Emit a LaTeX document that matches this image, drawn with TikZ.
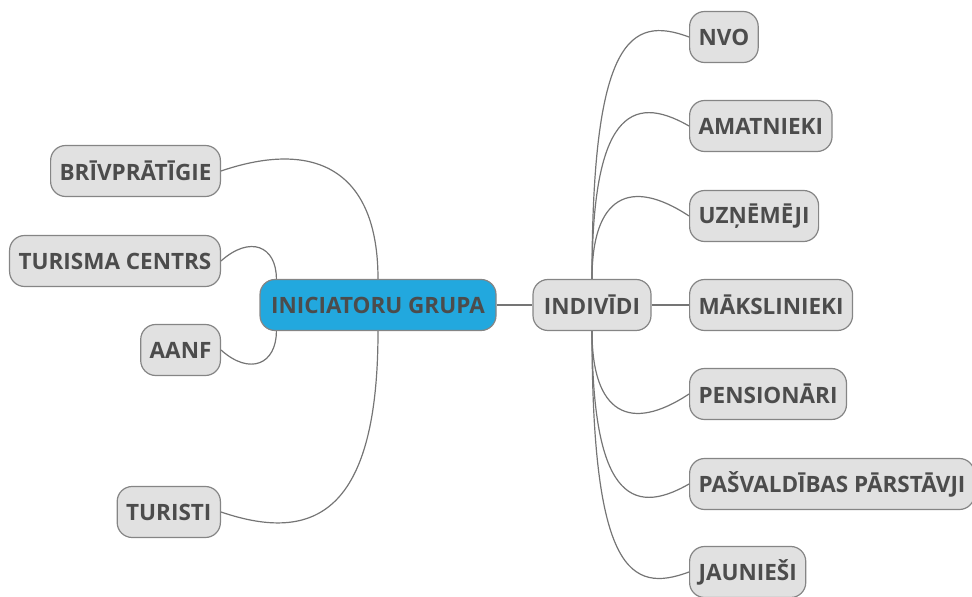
\documentclass[tikz,border=0pt]{standalone}
\usepackage{fontspec}
\setmainfont{Open Sans}
\definecolor{boxgray}{HTML}{E1E1E1}
\definecolor{boxline}{HTML}{858585}
\definecolor{hubblue}{HTML}{22A8DE}
\definecolor{labeltext}{HTML}{4C4C4C}
\definecolor{branchline}{HTML}{757575}
\tikzset{
	leaf/.style={draw=boxline, fill=boxgray, line width=1.2pt, rounded corners=15pt, minimum height=51pt, inner xsep=9pt, text=labeltext, font=\fontsize{22.5}{26}\selectfont\bfseries},
	hub/.style={leaf, fill=hubblue},
	branch/.style={draw=branchline, line width=1.2pt}
}
\begin{document}
\begin{tikzpicture}[x=1pt, y=1pt]
		\useasboundingbox (0,0) rectangle (972,597);
		\node (ini) at (378,292) [hub, minimum width=236pt] {INICIATORU GRUPA};
		\node (ind) at (592,292) [leaf, minimum width=118pt] {INDIVĪDI};
		\node (nvo) at (689,560) [leaf, anchor=west] {NVO};
		\node (ama) at (689,471) [leaf, anchor=west] {AMATNIEKI};
		\node (uzn) at (689,381) [leaf, anchor=west] {UZŅĒMĒJI};
		\node (mak) at (689,292) [leaf, anchor=west] {MĀKSLINIEKI};
		\node (pen) at (689,203) [leaf, anchor=west] {PENSIONĀRI};
		\node (pas) at (689,113) [leaf, anchor=west] {PAŠVALDĪBAS PĀRSTĀVJI};
		\node (jau) at (689,25) [leaf, anchor=west] {JAUNIEŠI};
		\node (bri) at (221,426) [leaf, anchor=east] {BRĪVPRĀTĪGIE};
		\node (tic) at (221,336) [leaf, anchor=east] {TURISMA CENTRS};
		\node (aanf) at (221,247) [leaf, anchor=east] {AANF};
		\node (turi) at (221,85) [leaf, anchor=east] {TURISTI};
		\draw[branch] (ini.east) -- (ind.west);
		\draw[branch] (ind.east) -- (mak.west);
		\draw[branch] (ind.north) .. controls +(0,240) and +(-59,22) .. (nvo.west);
		\draw[branch] (ind.north) .. controls +(0,163) and +(-59,34) .. (ama.west);
		\draw[branch] (ind.north) .. controls +(0,83) and +(-59,39) .. (uzn.west);
		\draw[branch] (ind.south) .. controls +(0,-83) and +(-59,-39) .. (pen.west);
		\draw[branch] (ind.south) .. controls +(0,-163) and +(-59,-34) .. (pas.west);
		\draw[branch] (ind.south) .. controls +(0,-240) and +(-59,-22) .. (jau.west);
		\draw[branch] (ini.north) .. controls +(0,109) and +(94,32) .. (bri.east);
		\draw[branch] ([xshift=17pt]ini.north west) .. controls +(0,33) and +(29,26) .. (tic.east);
		\draw[branch] ([xshift=17pt]ini.south west) .. controls +(0,-33) and +(29,-26) .. (aanf.east);
		\draw[branch] (ini.south) .. controls +(0,-181) and +(94,-32) .. (turi.east);
	\end{tikzpicture}
\end{document}
